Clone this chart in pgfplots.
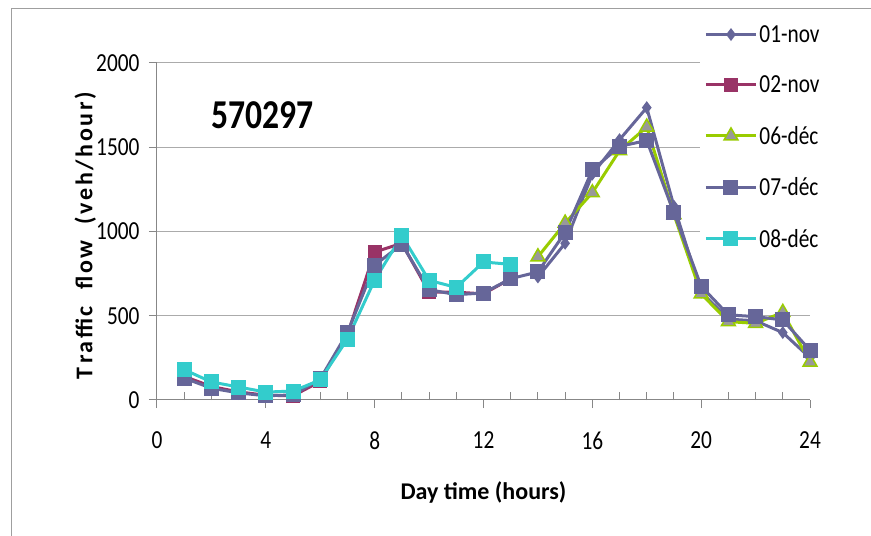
\documentclass[border=0pt]{standalone}
\usepackage{pgfplots}
\pgfplotsset{compat=1.18}
\usepackage{fontspec}
\setmainfont{Carlito}[FakeStretch=0.82]
\newfontfamily\labfont{Carlito}
\newfontfamily\ylabfont{Carlito}[LetterSpace=11]

\definecolor{novA}{HTML}{666699}
\definecolor{novB}{HTML}{993366}
\definecolor{decA}{HTML}{99CC00}
\definecolor{decAfill}{HTML}{999999}
\definecolor{decB}{HTML}{666699}
\definecolor{decC}{HTML}{33CCCC}
\definecolor{axgray}{HTML}{878787}

% 01-nov
\pgfplotstableread{
h v
14 730
15 930
16 1340
17 1545
18 1735
19 1150
20 640
21 480
22 470
23 400
24 250
}\novone
% 02-nov
\pgfplotstableread{
h v
1 140
2 80
3 48
4 28
5 25
6 110
7 390
8 878
9 930
10 640
11 640
12 630
13 720
}\novtwo
% 06-dec
\pgfplotstableread{
h v
14 850
15 1050
16 1230
17 1480
18 1620
19 1100
20 630
21 465
22 455
23 520
24 225
}\decsix
% 07-dec
\pgfplotstableread{
h v
1 130
2 70
3 42
4 25
5 30
6 125
7 400
8 800
9 925
10 655
11 625
12 635
13 720
14 760
15 995
16 1365
17 1505
18 1540
19 1110
20 675
21 505
22 495
23 475
24 295
}\decseven
% 08-dec
\pgfplotstableread{
h v
1 180
2 107
3 77
4 47
5 53
6 119
7 362
8 712
9 975
10 710
11 668
12 819
13 805
}\deceight

\begin{document}
\begin{tikzpicture}
\useasboundingbox (0,0) rectangle (871pt,536pt);
\draw[axgray!80, line width=1pt] (11pt,0) -- (11pt,527pt) -- (871pt,527pt);
\begin{axis}[
    at={(157pt,136pt)}, anchor=south west,
    width=653pt, height=337pt, scale only axis,
    xmin=0, xmax=24, ymin=0, ymax=2000,
    xtick={0,4,...,24}, minor x tick num=3,
    ytick={0,500,...,2000},
    axis x line*=bottom, axis y line*=left,
    axis line style={axgray, line width=1pt},
    tick style={axgray, line width=1pt},
    tick align=outside,
    major tick length=8pt, minor tick length=8pt,
    minor x tick style={yshift=8pt},
    ymajorgrids, grid style={axgray!70, line width=1pt},
    ticklabel style={font=\fontsize{26}{26}\selectfont},
    /pgf/number format/assume math mode=true,
    /pgf/number format/1000 sep={},
    xticklabel style={yshift=-20pt},
    yticklabel style={xshift=-6pt},
    xlabel={Day time (hours)},
    xlabel style={font=\labfont\bfseries\fontsize{24}{24}\selectfont, at={(axis description cs:0.5,-0.273)}, anchor=center},
    ylabel={T\,raffic\ \ flow\ \ (veh/hour)},
    ylabel style={font=\ylabfont\bfseries\fontsize{24}{24}\selectfont, at={(axis description cs:-0.11,0.487)}, anchor=center},
    legend style={at={(axis description cs:0.832,1.136)}, anchor=north west, draw=none, fill=white,
        font=\fontsize{26}{26}\selectfont, row sep=28pt, inner xsep=4pt, inner ysep=6pt,
        cells={anchor=west}},
    legend image code/.code={\draw[mark repeat=2,mark phase=2] plot coordinates {(0pt,0pt)(25pt,0pt)(50pt,0pt)};},
    every axis plot/.append style={line width=3pt},
]
\addplot[color=novA, mark=diamond*, mark size=4pt] table[x=h,y=v] {\novone};
\addplot[color=novB, mark=square*, mark size=5.5pt] table[x=h,y=v] {\novtwo};
\addplot[color=decA, mark=triangle*, mark size=8pt, mark options={fill=decAfill, draw=decA, line width=1.5pt}] table[x=h,y=v] {\decsix};
\addplot[color=decB, mark=square*, mark size=6pt] table[x=h,y=v] {\decseven};
\addplot[color=decC, mark=square*, mark size=6pt] table[x=h,y=v] {\deceight};
\legend{01-nov,02-nov,06-déc,07-déc,08-déc}
\node[font=\bfseries\fontsize{41}{41}\selectfont] at (axis description cs:0.161,0.846) {570297};
\end{axis}
\end{tikzpicture}
\end{document}
